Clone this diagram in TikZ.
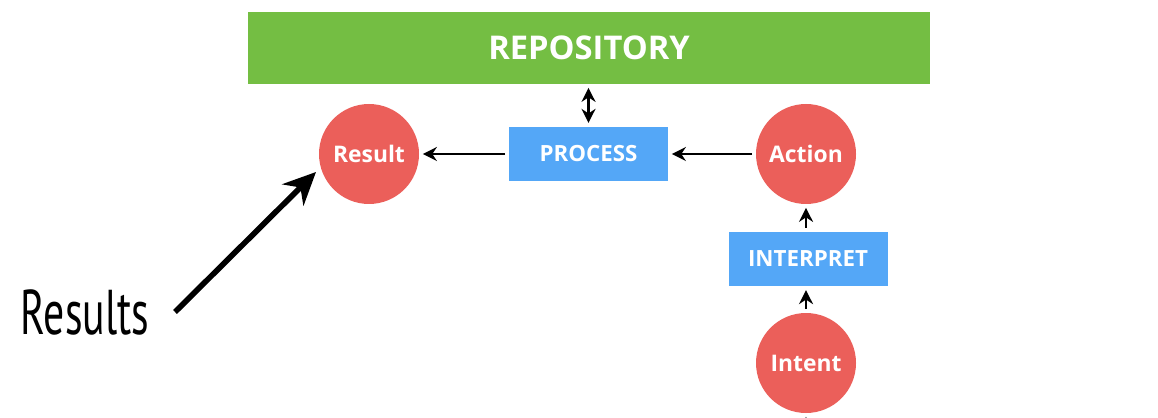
\documentclass[tikz,border=0pt]{standalone}
\usepackage{fontspec}
\setmainfont{Open Sans}
\newfontfamily\handfont{PT Sans}
\usetikzlibrary{arrows.meta,calc,positioning}
\definecolor{repogreen}{RGB}{116,190,67}
\definecolor{stepblue}{RGB}{84,167,247}
\definecolor{statered}{RGB}{235,95,90}
\tikzset{
    flow diagram/.style = {>={Stealth[length=2.8mm,width=2.8mm]}},
    line/.style         = {line width=1.4pt, shorten >=2pt, shorten <=2pt},
    repo/.style         = {fill=repogreen, text=white, font=\bfseries\fontsize{18.6}{18.6}\selectfont,
                           minimum width=13.64cm, minimum height=1.44cm},
    stepbox/.style      = {fill=stepblue, text=white, font=\bfseries\fontsize{12.7}{12.7}\selectfont,
                           minimum width=3.18cm, minimum height=1.09cm},
    state/.style        = {circle, fill=statered, text=white, font=\bfseries\fontsize{13}{13}\selectfont,
                           minimum size=2.0cm, inner sep=0pt},
    note/.style         = {font=\handfont\fontsize{36}{36}\selectfont, xscale=0.66, transform shape,
                           text=black, draw=none},
    pointer/.style      = {line width=3.2pt, -{Stealth[length=6.5mm,width=6mm]}}
}
\def\toprow{5.26}
\def\midrow{3.16}
\def\lowrow{1.08}

\begin{document}
\begin{tikzpicture}[flow diagram]
\useasboundingbox (0,0) rectangle (23.16,8.34);
% Repository bar and the main process row.
\node[repo] (repository) at (11.78,7.38) {REPOSITORY};
\node[state] (result) at (7.38,\toprow) {Result};
\node[stepbox] (process) at (11.77,\toprow) {PROCESS};
\node[state] (action) at (16.12,\toprow) {Action};
\node[stepbox] (interpret) at (16.16,\midrow) {INTERPRET};
\node[state] (intent) at (16.12,\lowrow) {Intent};
\coordinate (below) at (16.12,-0.6);

\draw[<->, line] (process.north) -- (process.north |- repository.south);
\draw[->, line] (process.west) -- (result.east);
\draw[->, line] (action.west) -- (process.east);
\draw[->, line] (interpret.north -| action.south) -- (action.south);
\draw[->, line] (intent.north) -- (intent.north |- interpret.south);
\begin{scope}
\clip (0,0) rectangle (23.16,8.34);
\draw[->, line] (below) -- (intent.south);
\end{scope}

% Hand-written callout.
\node[note] (results) at (1.7,2.1) {Results};
\coordinate (tail) at (3.5,2.1);
\coordinate (tip) at (6.32,4.9);
\draw[pointer] (tail) -- (tip);
\end{tikzpicture}
\end{document}
